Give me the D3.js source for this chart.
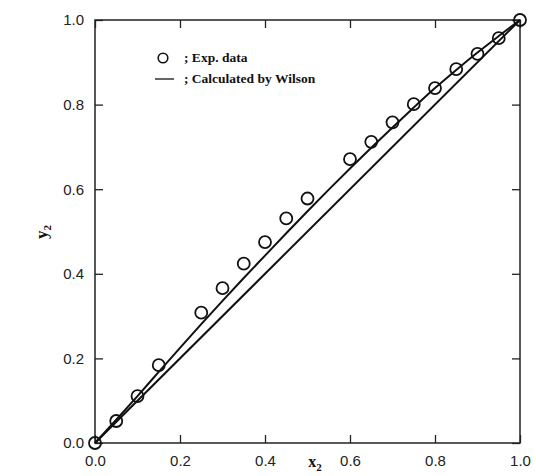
<!DOCTYPE html>
<html>
<head>
<meta charset="utf-8">
<script src="https://cdn.jsdelivr.net/npm/d3@7"></script>
<style>
  body { margin: 0; background: #fff; }
  .tick text { font-family: Arial, "Liberation Sans", sans-serif; font-size: 15px; fill: #222; }
  .lbl { font-family: "Liberation Serif", "Times New Roman", serif; font-weight: bold; fill: #111; }
</style>
</head>
<body>
<div id="chart"></div>
<script>
// experimental points
var expX = [0, 0.05, 0.10, 0.15, 0.25, 0.30, 0.35, 0.40, 0.45, 0.50, 0.60, 0.65, 0.70, 0.75, 0.80, 0.85, 0.90, 0.95, 1.0];
var expY = [0, 0.052, 0.111, 0.184, 0.308, 0.366, 0.424, 0.475, 0.531, 0.578, 0.671, 0.712, 0.758, 0.801, 0.839, 0.884, 0.920, 0.957, 1.0];

// Wilson curve
var wilX = [0, 0.05, 0.10, 0.15, 0.20, 0.25, 0.30, 0.35, 0.40, 0.45, 0.50, 0.55, 0.60, 0.65, 0.70, 0.75, 0.80, 0.85, 0.90, 0.95, 1.0];
var wilY = [0, 0.055, 0.111, 0.168, 0.225, 0.281, 0.336, 0.390, 0.443, 0.496, 0.548, 0.599, 0.649, 0.698, 0.746, 0.793, 0.839, 0.882, 0.923, 0.962, 1.0];

// x = y reference
var diagX = [0, 1];
var diagY = [0, 1];

var ticks = [0, 0.2, 0.4, 0.6, 0.8, 1.0];

var W = 536, H = 476;
var pLeft = 95, pRight = 520, pTop = 20, pBottom = 443;

var svg = d3.select("#chart").append("svg")
  .attr("width", W)
  .attr("height", H);

var x = d3.scaleLinear().domain([0, 1]).range([pLeft, pRight]);
var y = d3.scaleLinear().domain([0, 1]).range([pBottom, pTop]);

var fmt = d3.format(".1f");

// axes, ticks inward on all four sides
svg.append("g")
  .attr("transform", "translate(0," + pBottom + ")")
  .call(d3.axisBottom(x).tickValues(ticks).tickFormat(fmt).tickSize(-8).tickPadding(12));
svg.append("g")
  .attr("transform", "translate(" + pLeft + ",0)")
  .call(d3.axisLeft(y).tickValues(ticks).tickFormat(fmt).tickSize(-8).tickPadding(11));
svg.append("g")
  .attr("transform", "translate(0," + pTop + ")")
  .call(d3.axisTop(x).tickValues(ticks).tickFormat("").tickSize(-8));
svg.append("g")
  .attr("transform", "translate(" + pRight + ",0)")
  .call(d3.axisRight(y).tickValues(ticks).tickFormat("").tickSize(-8));

svg.selectAll(".domain").remove();
svg.selectAll(".tick line").attr("stroke", "#222").attr("stroke-width", 1.3);

svg.append("rect")
  .attr("x", pLeft).attr("y", pTop)
  .attr("width", pRight - pLeft).attr("height", pBottom - pTop)
  .attr("fill", "none")
  .attr("stroke", "#222")
  .attr("stroke-width", 1.5);

var line = d3.line()
  .x(function(d) { return x(d[0]); })
  .y(function(d) { return y(d[1]); })
  .curve(d3.curveMonotoneX);

svg.append("path")
  .datum(diagX.map(function(v, i) { return [v, diagY[i]]; }))
  .attr("d", line)
  .attr("fill", "none")
  .attr("stroke", "#111")
  .attr("stroke-width", 2);

svg.append("path")
  .datum(wilX.map(function(v, i) { return [v, wilY[i]]; }))
  .attr("d", line)
  .attr("fill", "none")
  .attr("stroke", "#111")
  .attr("stroke-width", 2);

svg.append("g")
  .selectAll("circle")
  .data(expX.map(function(v, i) { return [v, expY[i]]; }))
  .enter()
  .append("circle")
  .attr("cx", function(d) { return x(d[0]); })
  .attr("cy", function(d) { return y(d[1]); })
  .attr("r", 6)
  .attr("fill", "none")
  .attr("stroke", "#111")
  .attr("stroke-width", 1.8);

// legend
svg.append("circle")
  .attr("cx", 163).attr("cy", 58).attr("r", 4.8)
  .attr("fill", "none").attr("stroke", "#111").attr("stroke-width", 1.6);
svg.append("text").attr("class", "lbl")
  .attr("x", 184).attr("y", 62).attr("font-size", 13.5)
  .text(";  Exp. data");
svg.append("line")
  .attr("x1", 155).attr("x2", 174).attr("y1", 79).attr("y2", 79)
  .attr("stroke", "#111").attr("stroke-width", 1.3);
svg.append("text").attr("class", "lbl")
  .attr("x", 184).attr("y", 83).attr("font-size", 13.5)
  .text("; Calculated by Wilson");

// axis titles
svg.append("text").attr("class", "lbl")
  .attr("x", 315).attr("y", 467).attr("font-size", 16)
  .attr("text-anchor", "middle")
  .html("x<tspan font-size='11' dy='4'>2</tspan>");
svg.append("text").attr("class", "lbl")
  .attr("transform", "translate(47,232) rotate(-90)")
  .attr("font-size", 17)
  .attr("text-anchor", "middle")
  .html("y<tspan font-size='11' dy='4'>2</tspan>");
</script>
</body>
</html>
